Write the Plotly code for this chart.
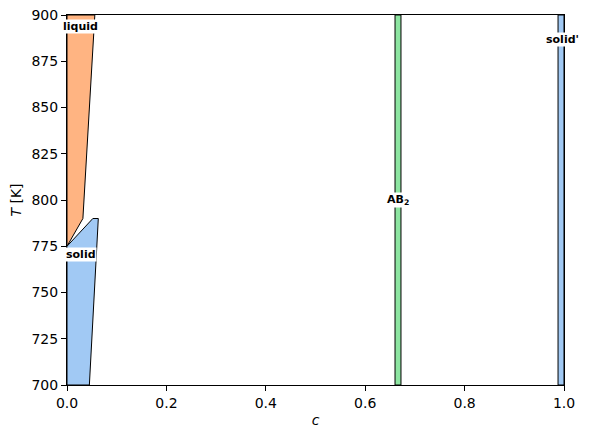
import plotly.graph_objects as go

# Phase region polygons (composition c, temperature T in K)
liquid_c = [0.0, 0.056, 0.032, 0.0]
liquid_T = [900, 900, 790, 775]

solid_c = [0.0, 0.045, 0.063, 0.052, 0.0]
solid_T = [700, 700, 790, 790, 775]

ab2_c = [0.660, 0.672, 0.672, 0.660]
ab2_T = [700, 700, 900, 900]

solidp_c = [0.988, 1.0, 1.0, 0.988]
solidp_T = [700, 700, 900, 900]

# Labels
label_text = ["liquid", "solid", "AB<sub>2</sub>", "solid'"]
label_c = [0.028, 0.028, 0.666, 0.996]
label_T = [894, 770.5, 800, 887]

x_ticks = [0.0, 0.2, 0.4, 0.6, 0.8, 1.0]
y_ticks = [700, 725, 750, 775, 800, 825, 850, 875, 900]

fig = go.Figure()
regions = [
    (liquid_c, liquid_T, "#ffb482"),
    (solid_c, solid_T, "#a1c9f4"),
    (ab2_c, ab2_T, "#8de5a1"),
    (solidp_c, solidp_T, "#a1c9f4"),
]
for cs, Ts, col in regions:
    fig.add_trace(go.Scatter(
        x=cs + [cs[0]], y=Ts + [Ts[0]], mode="lines", fill="toself",
        fillcolor=col, line=dict(color="black", width=1), hoverinfo="skip",
        showlegend=False))

for t, c, T in zip(label_text, label_c, label_T):
    fig.add_annotation(x=c, y=T, text="<b>" + t + "</b>", showarrow=False,
                       font=dict(family="DejaVu Sans", size=11, color="black"),
                       bgcolor="white", borderpad=0, xanchor="center", yanchor="middle")

axis_common = dict(showgrid=False, zeroline=False, showline=True, linecolor="black",
                   linewidth=1, mirror=True, ticks="outside", ticklen=5,
                   tickcolor="black", tickwidth=1, automargin=False,
                   tickfont=dict(family="DejaVu Sans", size=14, color="black"))
fig.update_xaxes(range=[0, 1], tickvals=x_ticks, tickformat=".1f",
                 title=dict(text="<i>c</i>", font=dict(family="DejaVu Sans", size=14, color="black"), standoff=5),
                 **axis_common)
fig.update_yaxes(range=[700, 900], tickvals=y_ticks,
                 title=dict(text="<i>T</i> [K]", font=dict(family="DejaVu Sans", size=14, color="black"), standoff=6),
                 **axis_common)
fig.update_layout(width=590, height=438, margin=dict(l=67, r=26, t=15, b=53),
                  plot_bgcolor="white", paper_bgcolor="white")
fig.write_html("out.html")
